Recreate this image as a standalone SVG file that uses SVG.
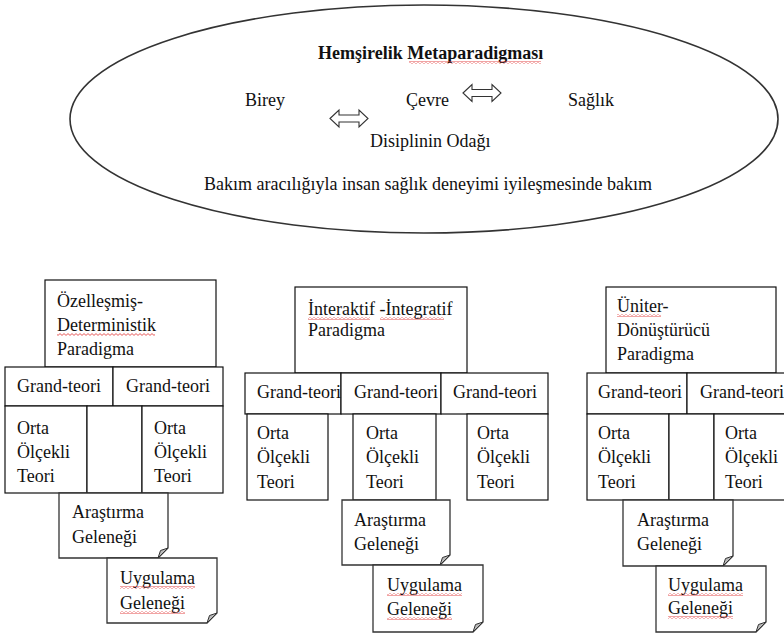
<svg xmlns="http://www.w3.org/2000/svg" width="784" height="634" viewBox="0 0 784 634">
<style>
text{font-family:"Liberation Serif","Times New Roman",serif;font-size:18px;fill:#111}
.t{font-weight:bold}
.b{fill:#fff;stroke:#111;stroke-width:1.2}
.f{fill:#fff;stroke:#333;stroke-width:1.3}
.fold{fill:#bbb;stroke:#333;stroke-width:1}
.ar{fill:#fff;stroke:#333;stroke-width:1.1}
.w{fill:url(#wavy)}
</style>
<defs>
<pattern id="wavy" width="4" height="3" patternUnits="userSpaceOnUse">
<path d="M0,0.6 L2,2.4 L4,0.6" fill="none" stroke="#e03030" stroke-width="0.8"/>
</pattern>
</defs>
<rect width="784" height="634" fill="#fff"/>
<g id="metaparadigm">
<ellipse cx="424" cy="119" rx="354" ry="114" fill="#fff" stroke="#333" stroke-width="1.6"/>
<text class="t" x="318" y="59">Hemşirelik Metaparadigması</text>
<rect class="w" x="409" y="61" width="132" height="3"/>
<text x="245" y="106">Birey</text>
<text x="406" y="106">Çevre</text>
<text x="568" y="106">Sağlık</text>
<text x="370" y="147">Disiplinin Odağı</text>
<text x="204" y="190">Bakım aracılığıyla insan sağlık deneyimi iyileşmesinde bakım</text>
</g>
<g id="connectors">
<path class="ar" d="M330,118.5 L339,110 L339,115 L359,115 L359,110 L368,118.5 L359,127 L359,122 L339,122 L339,127 Z"/>
<path class="ar" d="M463,93 L472,84.5 L472,89.5 L492,89.5 L492,84.5 L501,93 L492,101.5 L492,96.5 L472,96.5 L472,101.5 Z"/>
</g>
<g id="col-left">
<g id="paradigm-left">
<rect class="b" x="45" y="280" width="171" height="87"/>
<text x="57" y="307">Özelleşmiş-</text>
<text x="57" y="331">Deterministik</text>
<rect class="w" x="57" y="333" width="98" height="3"/>
<text x="57" y="355">Paradigma</text>
</g>
<g id="grand-left">
<rect class="b" x="5" y="367" width="108" height="39"/>
<rect class="b" x="113" y="367" width="110" height="39"/>
<text x="17" y="392">Grand-teori</text>
<text x="126" y="392">Grand-teori</text>
</g>
<g id="orta-left">
<rect class="b" x="5" y="406" width="82" height="87"/>
<rect class="b" x="87" y="406" width="55" height="87"/>
<rect class="b" x="142" y="406" width="81" height="87"/>
<text x="17" y="434">Orta</text><text x="17" y="458">Ölçekli</text><text x="17" y="482">Teori</text>
<text x="154" y="434">Orta</text><text x="154" y="458">Ölçekli</text><text x="154" y="482">Teori</text>
</g>
<g id="arastirma-left">
<path class="f" d="M59,493 H168 V548 L158,558 H59 Z"/>
<path class="fold" d="M168,548 L158,558 L160.5,550.5 Z"/>
<text x="72" y="518">Araştırma</text>
<text x="72" y="543">Geleneği</text>
</g>
<g id="uygulama-left">
<path class="f" d="M107,558 H217 V613 L207,623 H107 Z"/>
<path class="fold" d="M217,613 L207,623 L209.5,615.5 Z"/>
<text x="120" y="584">Uygulama</text>
<rect class="w" x="120" y="586" width="75" height="3"/>
<text x="120" y="609">Geleneği</text>
<rect class="w" x="120" y="611" width="65" height="3"/>
</g>
</g>
<g id="col-middle">
<g id="paradigm-middle">
<rect class="b" x="295" y="287" width="172" height="86"/>
<text x="308" y="315">İnteraktif -İntegratif</text>
<rect class="w" x="308" y="317" width="62" height="3"/>
<rect class="w" x="380" y="317" width="64" height="3"/>
<text x="308" y="336">Paradigma</text>
</g>
<g id="grand-middle">
<rect class="b" x="245" y="373" width="96" height="41"/>
<rect class="b" x="341" y="373" width="100" height="41"/>
<rect class="b" x="441" y="373" width="107" height="41"/>
<text x="257" y="398">Grand-teori</text>
<text x="354" y="398">Grand-teori</text>
<text x="453" y="398">Grand-teori</text>
</g>
<g id="orta-middle">
<rect class="b" x="247" y="414" width="81" height="86"/>
<rect class="b" x="353" y="414" width="83" height="86"/>
<rect class="b" x="467" y="414" width="81" height="86"/>
<text x="257" y="439">Orta</text><text x="257" y="463">Ölçekli</text><text x="257" y="488">Teori</text>
<text x="366" y="439">Orta</text><text x="366" y="463">Ölçekli</text><text x="366" y="488">Teori</text>
<text x="477" y="439">Orta</text><text x="477" y="463">Ölçekli</text><text x="477" y="488">Teori</text>
</g>
<g id="arastirma-middle">
<path class="f" d="M342,500 H450 V555 L440,565 H342 Z"/>
<path class="fold" d="M450,555 L440,565 L442.5,557.5 Z"/>
<text x="354" y="526">Araştırma</text>
<text x="354" y="550">Geleneği</text>
</g>
<g id="uygulama-middle">
<path class="f" d="M373,565 H483 V622 L473,632 H373 Z"/>
<path class="fold" d="M483,622 L473,632 L475.5,624.5 Z"/>
<text x="387" y="591">Uygulama</text>
<rect class="w" x="387" y="593" width="75" height="3"/>
<text x="387" y="615">Geleneği</text>
<rect class="w" x="387" y="617" width="65" height="3"/>
</g>
</g>
<g id="col-right">
<g id="paradigm-right">
<rect class="b" x="606" y="287" width="170" height="86"/>
<text x="617" y="312">Üniter-</text>
<rect class="w" x="617" y="314" width="44" height="3"/>
<text x="617" y="336">Dönüştürücü</text>
<text x="617" y="360">Paradigma</text>
</g>
<g id="grand-right">
<rect class="b" x="587" y="373" width="100" height="41"/>
<rect class="b" x="687" y="373" width="100" height="41"/>
<text x="598" y="398">Grand-teori</text>
<text x="700" y="398">Grand-teori</text>
</g>
<g id="orta-right">
<rect class="b" x="587" y="414" width="82" height="86"/>
<rect class="b" x="669" y="414" width="45" height="86"/>
<rect class="b" x="714" y="414" width="73" height="86"/>
<text x="598" y="439">Orta</text><text x="598" y="463">Ölçekli</text><text x="598" y="488">Teori</text>
<text x="725" y="439">Orta</text><text x="725" y="463">Ölçekli</text><text x="725" y="488">Teori</text>
</g>
<g id="arastirma-right">
<path class="f" d="M623,500 H733 V556 L723,566 H623 Z"/>
<path class="fold" d="M733,556 L723,566 L725.5,558.5 Z"/>
<text x="637" y="526">Araştırma</text>
<text x="637" y="550">Geleneği</text>
</g>
<g id="uygulama-right">
<path class="f" d="M656,566 H766 V622 L756,632 H656 Z"/>
<path class="fold" d="M766,622 L756,632 L758.5,624.5 Z"/>
<text x="668" y="591">Uygulama</text>
<rect class="w" x="668" y="593" width="75" height="3"/>
<text x="668" y="614">Geleneği</text>
<rect class="w" x="668" y="616" width="65" height="3"/>
</g>
</g>
</svg>
